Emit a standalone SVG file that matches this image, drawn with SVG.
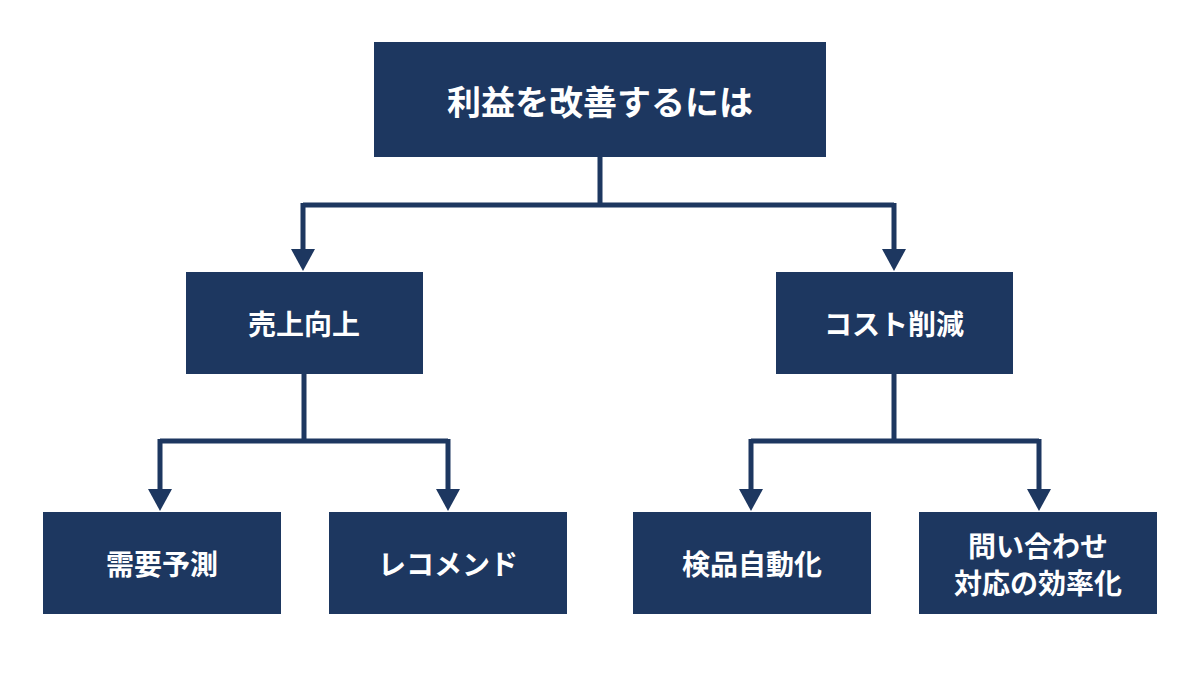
<svg xmlns="http://www.w3.org/2000/svg" width="1200" height="675" viewBox="0 0 1200 675">
<style>
.box{fill:#1d3760}
.t{fill:#fff;font-family:"Noto Sans CJK JP","Noto Sans",sans-serif;font-weight:bold;text-anchor:middle;dominant-baseline:central}
.ln{fill:none;stroke:#1d3760;stroke-width:5}
</style>
<defs><marker id="a" viewBox="0 0 10 10" refX="5" refY="10" markerWidth="5" markerHeight="5" orient="auto-start-reverse" markerUnits="userSpaceOnUse"><path d="M0,0 L10,0 L5,10 Z" fill="#1d3760"/></marker>
<path id="ah" d="M-12,0 L12,0 L0,22 Z" fill="#1d3760"/></defs>
<rect width="1200" height="675" fill="#fff"/>
<g id="connectors">
<path class="ln" d="M600,157 V205 M303,205 H894 M303,203 V250 M894,203 V250"/>
<use href="#ah" x="303" y="249"/><use href="#ah" x="894" y="249"/>
<path class="ln" d="M304,374 V441 M160,441 H448 M160,439 V490 M448,439 V490"/>
<use href="#ah" x="160" y="489"/><use href="#ah" x="448" y="489"/>
<path class="ln" d="M894,374 V441 M751,441 H1039 M751,439 V490 M1039,439 V490"/>
<use href="#ah" x="751" y="489"/><use href="#ah" x="1039" y="489"/>
</g>
<g id="root"><rect class="box" x="374" y="42" width="452" height="115"/><text class="t" x="600" y="100" font-size="34">利益を改善するには</text></g>
<g id="sales"><rect class="box" x="186" y="272" width="237" height="102"/><text class="t" x="304" y="323" font-size="28">売上向上</text></g>
<g id="cost"><rect class="box" x="776" y="272" width="237" height="102"/><text class="t" x="894" y="323" font-size="28">コスト削減</text></g>
<g id="n1"><rect class="box" x="43" y="512" width="238" height="102"/><text class="t" x="162" y="563" font-size="28">需要予測</text></g>
<g id="n2"><rect class="box" x="329" y="512" width="238" height="102"/><text class="t" x="448" y="563" font-size="28">レコメンド</text></g>
<g id="n3"><rect class="box" x="633" y="512" width="238" height="102"/><text class="t" x="752" y="563" font-size="28">検品自動化</text></g>
<g id="n4"><rect class="box" x="919" y="512" width="238" height="102"/><text class="t" x="1038" y="545" font-size="28">問い合わせ</text><text class="t" x="1038" y="582" font-size="28">対応の効率化</text></g>
</svg>
